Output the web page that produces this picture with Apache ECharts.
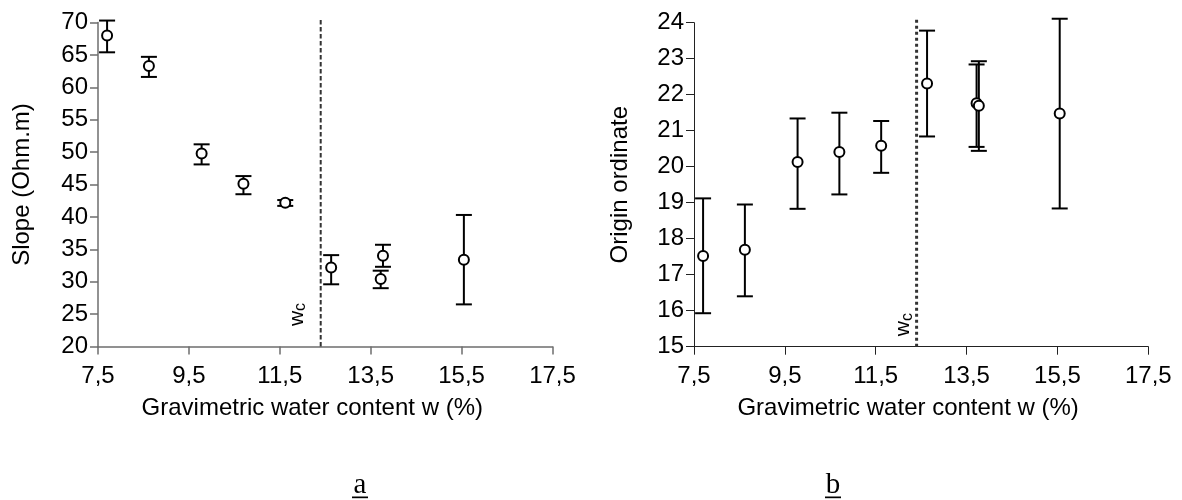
<!DOCTYPE html>
<html>
<head>
<meta charset="utf-8">
<title>Slope and origin ordinate vs gravimetric water content</title>
<script src="https://cdn.jsdelivr.net/npm/echarts@6/dist/echarts.min.js"></script>
<style>
  html, body { margin: 0; padding: 0; background: #fff; }
  #chart { width: 1182px; height: 500px; }
</style>
</head>
<body>
<div id="chart"></div>
<script>
// gravimetric water content of each sample (%)
const waterContent = [7.7, 8.62, 9.78, 10.7, 11.62, 12.63, 13.72, 13.77, 15.55]
// critical water content wc (dashed line)
const wcValue = 12.4

// a : slope (Ohm.m), mean and error bar limits
const slopeMean = [68.0, 63.3, 49.8, 45.1, 42.2, 32.2, 30.4, 34.0, 33.4]
const slopeLow = [65.4, 61.6, 48.1, 43.5, 41.7, 29.6, 29.0, 32.3, 26.5]
const slopeHigh = [70.3, 64.7, 51.2, 46.3, 42.6, 34.1, 31.7, 35.7, 40.3]

// b : origin ordinate, mean and error bar limits
const originMean = [17.52, 17.69, 20.13, 20.41, 20.58, 22.31, 21.76, 21.69, 21.48]
const originLow = [15.93, 16.4, 18.83, 19.23, 19.83, 20.84, 20.55, 20.44, 18.84]
const originHigh = [19.12, 18.95, 21.34, 21.5, 21.27, 23.78, 22.84, 22.93, 24.11]

// axis ticks
const xTicks = [7.5, 17.5, 2] // min, max, step
const slopeTicks = [20, 70, 5]
const originTicks = [15, 24, 1]

const FONT = '"Liberation Sans", Arial, sans-serif'

const chart = echarts.init(document.getElementById('chart'))

function errorBar (params, api) {
  const x = api.value(0)
  const bot = api.coord([x, api.value(1)])
  const top = api.coord([x, api.value(2)])
  const half = 8
  const style = { stroke: '#000', lineWidth: 2, fill: null }
  return {
    type: 'group',
    children: [
      { type: 'line', shape: { x1: top[0], y1: top[1], x2: bot[0], y2: bot[1] }, style },
      { type: 'line', shape: { x1: top[0] - half, y1: top[1], x2: top[0] + half, y2: top[1] }, style },
      { type: 'line', shape: { x1: bot[0] - half, y1: bot[1], x2: bot[0] + half, y2: bot[1] }, style }
    ]
  }
}

// dashed wc line with its rotated "wc" label
function wcLine (dash, width, dx, dy) {
  return function (params, api) {
    const x = api.value(0)
    const bot = api.coord([x, api.value(1)])
    const top = api.coord([x, api.value(2)])
    return {
      type: 'group',
      children: [
        {
          type: 'line',
          shape: { x1: bot[0], y1: bot[1], x2: top[0], y2: top[1] },
          style: { stroke: '#333', lineWidth: width, lineDash: dash, fill: null }
        },
        {
          type: 'text',
          x: bot[0] + dx,
          y: bot[1] + dy,
          rotation: Math.PI / 2,
          style: {
            text: '{w|w}{c|c}',
            align: 'center',
            verticalAlign: 'middle',
            fill: '#000',
            rich: {
              w: { fontSize: 21, fontFamily: FONT, fill: '#000', lineHeight: 24 },
              c: { fontSize: 16, fontFamily: FONT, fill: '#000', lineHeight: 16, verticalAlign: 'bottom' }
            }
          }
        }
      ]
    }
  }
}

function xAxisFor (gridIndex, lineColor, lineWidth) {
  return {
    type: 'value',
    gridIndex,
    min: xTicks[0],
    max: xTicks[1],
    interval: xTicks[2],
    name: 'Gravimetric water content w (%)',
    nameLocation: 'middle',
    nameGap: 50,
    nameTextStyle: { fontFamily: FONT, fontSize: 24, color: '#000', padding: [0, 26, 0, 0] },
    axisLine: { show: true, onZero: false, lineStyle: { color: lineColor, width: lineWidth } },
    axisTick: { show: true, length: 8, lineStyle: { color: lineColor, width: lineWidth } },
    axisLabel: {
      fontFamily: FONT, fontSize: 24, color: '#000', margin: 18,
      formatter: v => String(v).replace('.', ',')
    },
    splitLine: { show: false }
  }
}

function yAxisFor (gridIndex, ticks, name, lineColor, lineWidth, gap) {
  return {
    type: 'value',
    gridIndex,
    min: ticks[0],
    max: ticks[1],
    interval: ticks[2],
    name,
    nameLocation: 'middle',
    nameGap: gap,
    nameTextStyle: { fontFamily: FONT, fontSize: 24, color: '#000' },
    axisLine: { show: true, lineStyle: { color: lineColor, width: lineWidth } },
    axisTick: { show: true, length: 8, lineStyle: { color: lineColor, width: lineWidth } },
    axisLabel: { fontFamily: FONT, fontSize: 24, color: '#000', margin: 10 },
    splitLine: { show: false }
  }
}

const pointStyle = { color: '#fff', borderColor: '#000', borderWidth: 2, opacity: 1 }

chart.setOption({
  animation: false,
  backgroundColor: '#fff',
  grid: [
    { left: 98, top: 22.5, width: 454.5, height: 324 },
    { left: 694, top: 22.7, width: 454.3, height: 324 }
  ],
  xAxis: [
    xAxisFor(0, '#6e6e6e', 1.5),
    xAxisFor(1, '#222', 1)
  ],
  yAxis: [
    yAxisFor(0, slopeTicks, 'Slope (Ohm.m)', '#6e6e6e', 1.5, 64),
    yAxisFor(1, originTicks, 'Origin ordinate', '#222', 1, 62)
  ],
  series: [
    {
      type: 'custom', xAxisIndex: 0, yAxisIndex: 0, clip: false, silent: true,
      renderItem: wcLine([4.5, 2.5], 2, -24, -32),
      data: [[wcValue, slopeTicks[0], 70.65]]
    },
    {
      type: 'custom', xAxisIndex: 0, yAxisIndex: 0, clip: false, z: 3,
      renderItem: errorBar,
      data: waterContent.map((x, i) => [x, slopeLow[i], slopeHigh[i]])
    },
    {
      type: 'scatter', xAxisIndex: 0, yAxisIndex: 0, z: 4,
      symbol: 'circle', symbolSize: 10, itemStyle: pointStyle,
      data: waterContent.map((x, i) => [x, slopeMean[i]])
    },
    {
      type: 'custom', xAxisIndex: 1, yAxisIndex: 1, clip: false, silent: true,
      renderItem: wcLine([3, 3], 3, -13, -22),
      data: [[wcValue, originTicks[0], 24.11]]
    },
    {
      type: 'custom', xAxisIndex: 1, yAxisIndex: 1, clip: false, z: 3,
      renderItem: errorBar,
      data: waterContent.map((x, i) => [x, originLow[i], originHigh[i]])
    },
    {
      type: 'scatter', xAxisIndex: 1, yAxisIndex: 1, z: 4,
      symbol: 'circle', symbolSize: 10, itemStyle: pointStyle,
      data: waterContent.map((x, i) => [x, originMean[i]])
    }
  ],
  graphic: [
    { type: 'text', x: 360, y: 500, style: { text: 'a', font: '29px "Liberation Serif", "Times New Roman", serif', fill: '#000', align: 'center', verticalAlign: 'bottom' } },
    { type: 'rect', shape: { x: 352, y: 496.5, width: 16, height: 1.7 }, style: { fill: '#000' } },
    { type: 'text', x: 833, y: 500, style: { text: 'b', font: '29px "Liberation Serif", "Times New Roman", serif', fill: '#000', align: 'center', verticalAlign: 'bottom' } },
    { type: 'rect', shape: { x: 825, y: 496.5, width: 16, height: 1.7 }, style: { fill: '#000' } }
  ]
})
</script>
</body>
</html>
